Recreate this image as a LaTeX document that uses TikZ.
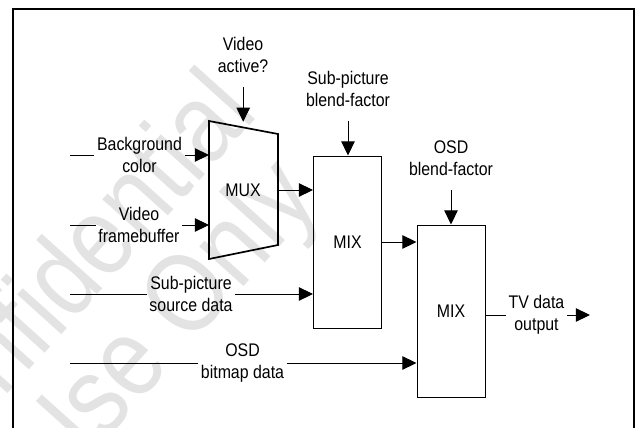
\documentclass[tikz,border=0pt]{standalone}
\usepackage{fontspec}
\setmainfont{Liberation Sans}
\newfontfamily\narrowfont[FakeStretch=0.87]{Liberation Sans}
\newfontfamily\wmfont[FakeStretch=0.85]{Liberation Sans}
\usepackage{tikz}
\usetikzlibrary{arrows.meta,calc}
\definecolor{wmark}{HTML}{E3E3E3}

\begin{document}
\begin{tikzpicture}[>={Triangle[length=10pt,width=9.5pt]},line width=0.7pt,
  lbl/.style={font=\narrowfont\fontsize{13}{16}\selectfont,align=center,inner sep=1.5pt},
  wm/.style={text=wmark,font=\wmfont\fontsize{80}{80}\selectfont,rotate=48},
  mixbox/.style={draw,minimum width=1.7cm,minimum height=4.3cm,inner sep=0pt,
    font=\narrowfont\fontsize{13}{16}\selectfont}]
  \useasboundingbox (0,0) rectangle (15.975,10.675);
  \node[wm] (wmconf) at (1.525,3.8) {Confidential};
  \node[wm] (wmuse) at (4.21,2.5) {Use Only};
  \draw[line width=2pt] (0.325,-0.3) -- (0.325,10.45) -- (15.85,10.45) -- (15.85,-0.3);
  \coordinate (mux-tl) at (5.225,7.65);
  \coordinate (mux-tr) at (6.95,7.325);
  \coordinate (mux-br) at (6.95,4.55);
  \coordinate (mux-bl) at (5.225,4.2);
  \draw[line width=1.2pt] (mux-tl) -- (mux-tr) -- (mux-br) -- (mux-bl) -- cycle;
  \node[lbl] (mux) at (6.075,5.925) {MUX};
  \node[mixbox] (mix1) at (8.6875,4.625) {MIX};
  \node[mixbox] (mix2) at (11.275,2.9) {MIX};
  \coordinate (bgin) at (1.75,6.8);
  \coordinate (vfin) at (1.75,5.05);
  \coordinate (spin) at (1.75,3.325);
  \coordinate (osdin) at (1.75,1.6);
  \node[lbl] (bgcol) at (3.4875,6.8) {Background\\color};
  \node[lbl] (vidfb) at (3.475,5.05) {Video\\framebuffer};
  \node[lbl] (spsrc) at (4.775,3.325) {Sub-picture\\source data};
  \node[lbl] (osdbmp) at (6.0625,1.6) {OSD\\bitmap data};
  \draw (bgin) -- (bgcol);
  \draw[->] (bgcol) -- (bgcol -| mux-tl);
  \draw (vfin) -- (vidfb);
  \draw[->] (vidfb) -- (vidfb -| mux-tl);
  \draw (spin) -- (spsrc);
  \draw[->] (spsrc) -- (spsrc -| mix1.west);
  \draw (osdin) -- (osdbmp);
  \draw[->] (osdbmp) -- (osdbmp -| mix2.west);
  \node[lbl] (vact) at (6.075,9.3) {Video\\active?};
  \coordinate (vact-s) at (6.08,8.5);
  \coordinate (vact-e) at (6.08,7.63);
  \draw[->] (vact-s) -- (vact-e);
  \node[lbl] (spblend) at (8.7,8.45) {Sub-picture\\blend-factor};
  \coordinate (spblend-s) at (8.7,7.65);
  \draw[->] (spblend-s) -- (spblend-s |- mix1.north);
  \node[lbl] (osdblend) at (11.275,6.725) {OSD\\blend-factor};
  \coordinate (osdblend-s) at (11.275,5.925);
  \draw[->] (osdblend-s) -- (mix2.north);
  \draw[->] (mux-br |- mux) -- (mux -| mix1.west);
  \draw[->] (mix1.east) -- (mix1.east -| mix2.west);
  \node[lbl] (tvout) at (13.4125,2.8) {TV data\\output};
  \coordinate (tvout-e) at (14.75,2.8);
  \draw (tvout -| mix2.east) -- (tvout);
  \draw[->] (tvout) -- (tvout-e);
\end{tikzpicture}
\end{document}
